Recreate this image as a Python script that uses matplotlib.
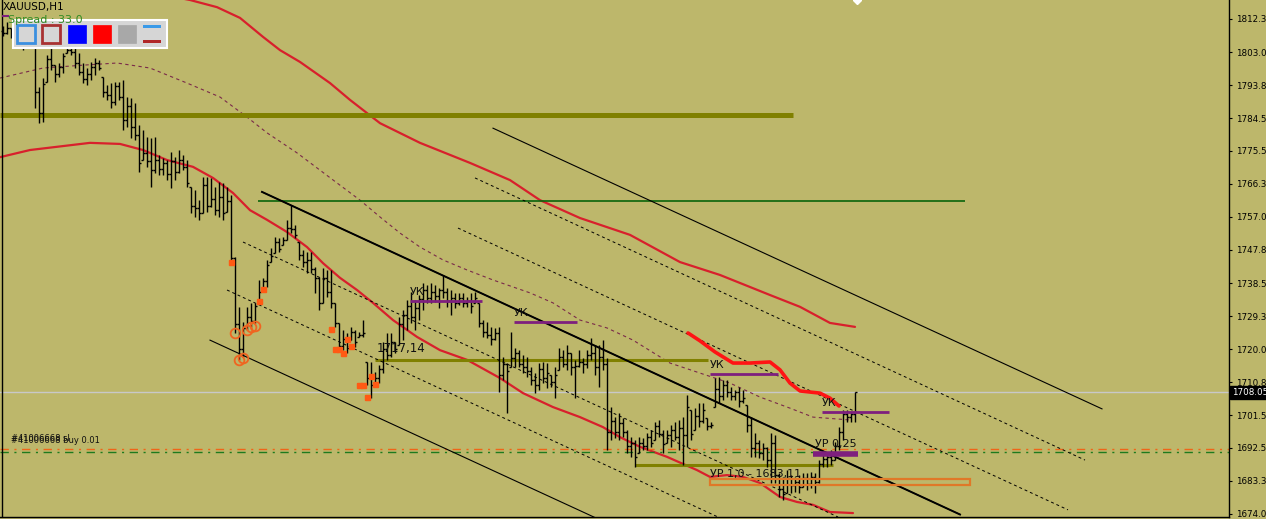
import numpy as np
import matplotlib
matplotlib.use("Agg")
import matplotlib.pyplot as plt
import matplotlib.transforms as mtransforms
from matplotlib.patches import Rectangle
from matplotlib.lines import Line2D

plt.rcParams['font.family'] = ['DejaVu Sans']

# ---------------- XAUUSD H1 bars ----------------
highs = [
    1810.3, 1811.5, 1809.8, 1809.8, 1808.7, 1807.0, 1809.2, 1809.8, 1805.9, 1793.3,
    1795.8, 1802.2, 1804.2, 1799.4, 1800.0, 1802.8, 1805.6, 1806.4, 1804.2, 1802.8,
    1800.0, 1798.6, 1800.3, 1801.4, 1800.8, 1796.1, 1793.9, 1794.4, 1794.7, 1794.7,
    1795.3, 1790.5, 1790.2, 1788.8, 1782.7, 1781.3, 1779.3, 1779.1, 1779.3, 1774.3,
    1773.5, 1772.9, 1775.1, 1773.8, 1775.7, 1774.3, 1772.9, 1765.5, 1764.5, 1761.7,
    1768.2, 1768.2, 1767.9, 1765.4, 1766.8, 1766.5, 1765.4, 1763.1, 1745.8, 1731.9,
    1727.7, 1731.9, 1733.0, 1733.0, 1739.4, 1740.0, 1745.0, 1748.3, 1751.4, 1751.1,
    1751.4, 1756.2, 1760.3, 1754.8, 1750.0, 1747.8, 1747.2, 1747.2, 1743.0, 1740.2,
    1742.7, 1742.2, 1742.2, 1733.0, 1727.4, 1725.4, 1724.6, 1726.3, 1725.4, 1724.9,
    1728.2, 1716.5, 1716.5, 1713.7, 1715.7, 1722.1, 1724.6, 1724.6, 1722.1, 1729.1,
    1731.0, 1733.8, 1736.0, 1733.8, 1735.2, 1738.6, 1738.0, 1738.6, 1738.0, 1737.2,
    1740.8, 1737.2, 1736.6, 1735.8, 1735.8, 1735.8, 1734.6, 1735.8, 1736.0, 1733.0,
    1728.2, 1727.7, 1726.3, 1726.0, 1726.3, 1717.9, 1716.2, 1724.9, 1720.4, 1719.8,
    1718.4, 1717.9, 1715.1, 1713.4, 1716.2, 1716.5, 1716.2, 1712.9, 1715.1, 1720.4,
    1719.8, 1721.2, 1719.0, 1717.0, 1719.8, 1717.6, 1719.8, 1723.2, 1721.2, 1721.2,
    1722.6, 1717.6, 1703.9, 1701.1, 1702.2, 1700.9, 1697.5, 1695.5, 1694.7, 1695.5,
    1695.3, 1696.7, 1697.5, 1699.7, 1700.3, 1697.5, 1697.5, 1698.9, 1699.7, 1700.3,
    1701.1, 1707.3, 1703.1, 1703.6, 1705.0, 1705.0, 1700.9, 1699.7, 1712.0, 1712.3,
    1711.5, 1711.5, 1709.5, 1708.7, 1709.5, 1708.7, 1704.5, 1701.1, 1696.7, 1694.7,
    1693.9, 1692.8, 1696.7, 1696.1, 1685.5, 1684.4, 1686.3, 1684.9, 1684.4, 1684.9,
    1685.5, 1685.5, 1685.8, 1685.5, 1689.1, 1691.4, 1691.4, 1691.9, 1694.1, 1698.3,
    1703.1, 1703.1, 1702.5, 1708.1,
]
lows = [
    1807.5, 1808.1, 1807.0, 1806.4, 1805.0, 1803.6, 1805.9, 1806.4, 1787.4, 1783.2,
    1783.5, 1794.7, 1798.0, 1794.7, 1796.1, 1797.2, 1802.8, 1802.2, 1798.6, 1796.6,
    1794.4, 1793.9, 1795.3, 1796.6, 1798.0, 1790.5, 1789.7, 1787.4, 1788.3, 1789.7,
    1781.3, 1782.1, 1779.1, 1778.5, 1769.6, 1772.9, 1771.0, 1765.4, 1769.3, 1768.7,
    1768.7, 1767.3, 1765.1, 1767.3, 1769.3, 1770.1, 1765.4, 1758.1, 1757.0, 1756.2,
    1758.1, 1758.4, 1759.8, 1757.5, 1757.0, 1756.2, 1758.4, 1744.4, 1724.6, 1717.0,
    1717.9, 1725.4, 1726.3, 1727.4, 1733.8, 1736.6, 1737.4, 1744.4, 1746.9, 1747.2,
    1749.2, 1750.6, 1752.5, 1751.1, 1745.0, 1743.0, 1741.4, 1741.4, 1735.8, 1731.0,
    1733.0, 1734.6, 1731.6, 1726.3, 1719.8, 1719.8, 1719.0, 1722.6, 1720.7, 1723.5,
    1723.5, 1710.1, 1706.4, 1710.6, 1710.6, 1713.4, 1717.0, 1717.9, 1719.0, 1721.2,
    1722.6, 1725.4, 1727.4, 1725.4, 1728.2, 1731.0, 1733.0, 1733.0, 1733.3, 1731.6,
    1734.4, 1731.9, 1729.6, 1731.6, 1732.4, 1731.9, 1731.9, 1730.2, 1733.0, 1726.3,
    1723.5, 1723.2, 1721.2, 1722.6, 1708.1, 1711.5, 1702.2, 1715.1, 1715.1, 1715.1,
    1713.4, 1712.3, 1710.1, 1707.8, 1708.7, 1710.6, 1709.2, 1709.5, 1706.4, 1714.3,
    1715.1, 1714.3, 1712.9, 1706.4, 1715.1, 1713.4, 1714.8, 1717.0, 1712.9, 1709.5,
    1714.3, 1691.9, 1694.7, 1695.3, 1694.7, 1695.5, 1691.1, 1690.0, 1687.2, 1691.1,
    1691.9, 1691.9, 1692.8, 1694.7, 1695.5, 1691.1, 1693.9, 1692.8, 1694.7, 1691.9,
    1687.7, 1692.8, 1694.7, 1697.5, 1698.3, 1699.5, 1697.5, 1698.1, 1703.9, 1705.0,
    1705.9, 1706.7, 1705.9, 1705.9, 1703.9, 1705.0, 1696.9, 1690.0, 1690.0, 1689.7,
    1689.1, 1687.2, 1682.7, 1682.7, 1678.8, 1677.9, 1679.9, 1679.9, 1680.2, 1679.9,
    1681.6, 1680.7, 1681.3, 1679.9, 1682.7, 1687.2, 1687.2, 1687.7, 1689.1, 1691.9,
    1694.7, 1699.7, 1699.7, 1699.7,
]
closes = [
    1808.5, 1809.8, 1807.8, 1808.5, 1806.0, 1805.0, 1807.5, 1806.9, 1792.0, 1786.0,
    1794.0, 1801.0, 1799.5, 1797.0, 1799.0, 1802.0, 1803.5, 1803.0, 1800.0, 1797.5,
    1795.5, 1797.0, 1799.0, 1800.0, 1798.5, 1792.0, 1791.0, 1789.0, 1793.5, 1790.5,
    1784.0, 1788.0, 1782.0, 1780.0, 1772.0, 1775.0, 1772.5, 1770.0, 1773.0, 1770.5,
    1772.0, 1769.0, 1772.5, 1769.5, 1773.0, 1771.0, 1766.5, 1760.0, 1759.5, 1758.0,
    1766.0, 1760.0, 1762.0, 1759.0, 1762.5, 1758.0, 1761.5, 1745.5, 1727.0, 1720.0,
    1726.0, 1729.0, 1728.0, 1732.0, 1736.0, 1739.0, 1743.5, 1746.0, 1750.0, 1748.0,
    1750.5, 1754.0, 1753.5, 1752.0, 1746.5, 1744.5, 1745.0, 1742.5, 1740.0, 1733.0,
    1740.0, 1736.0, 1733.0, 1727.5, 1721.0, 1723.0, 1720.5, 1725.0, 1722.0, 1724.0,
    1724.5, 1712.0, 1710.0, 1712.0, 1714.5, 1720.0, 1718.5, 1722.0, 1720.0, 1727.0,
    1729.5, 1732.0, 1729.0, 1731.5, 1734.0, 1736.5, 1734.5, 1736.0, 1735.0, 1736.5,
    1736.0, 1733.5, 1734.5, 1733.0, 1734.5, 1733.0, 1733.5, 1732.0, 1734.5, 1727.5,
    1725.0, 1724.0, 1723.0, 1724.5, 1713.0, 1716.0, 1714.0, 1717.5, 1719.0, 1716.0,
    1715.0, 1714.0, 1711.5, 1710.0, 1714.5, 1712.0, 1713.5, 1711.0, 1713.0, 1718.0,
    1716.0, 1719.0, 1715.0, 1715.5, 1716.5, 1716.0, 1718.5, 1719.0, 1715.0, 1718.0,
    1716.0, 1697.0, 1700.0, 1697.0, 1699.5, 1697.0, 1693.0, 1694.0, 1690.0, 1694.0,
    1693.0, 1695.5, 1694.0, 1698.5, 1696.5, 1693.5, 1696.0, 1697.5, 1695.5, 1698.0,
    1696.0, 1704.0, 1696.5, 1701.5, 1700.0, 1703.0, 1698.5, 1699.0, 1709.0, 1707.0,
    1710.0, 1708.0, 1707.0, 1708.0, 1705.5, 1706.5, 1699.0, 1692.5, 1694.0, 1691.0,
    1692.5, 1689.0, 1694.0, 1685.0, 1681.0, 1679.5, 1684.0, 1682.0, 1683.0, 1681.5,
    1684.0, 1682.5, 1684.5, 1683.0, 1688.0, 1689.5, 1690.0, 1689.0, 1693.0, 1697.0,
    1702.0, 1701.0, 1702.0, 1708.05,
]
first_open = 1809.0
last_price = 1708.05

# ---------------- price scale ----------------
price_ticks = [1812.30, 1803.05, 1793.80, 1784.55, 1775.55, 1766.30, 1757.05, 1747.80,
               1738.55, 1729.30, 1720.05, 1710.80, 1701.55, 1692.55, 1683.30, 1674.05]
tick_labels = ["1812.30", "1803.05", "1793.80", "1784.55", "1775.55", "1766.30", "1757.05",
               "1747.80", "1738.55", "1729.30", "1720.05", "1710.80", "1701.55", "1692.55",
               "1683.30", "1674.05"]

# ---------------- indicator lines (bar index, price) ----------------
env_upper_bars = [43, 46.75, 53.5, 59.25, 65, 69.25, 74.25, 81.75, 86.75, 94.25, 104.25,
                  116.75, 126.75, 134.25, 144.25, 156.75, 169.25, 179.25, 191.75, 199.25,
                  206.75, 213]
env_upper_vals = [1818.4, 1817.6, 1815.6, 1812.6, 1807.3, 1803.6, 1800.3, 1794.4, 1789.7,
                  1783.2, 1777.7, 1772.1, 1767.3, 1761.7, 1756.7, 1752.0, 1744.4, 1740.8,
                  1735.2, 1731.9, 1727.4, 1726.3]

env_lower_bars = [-0.75, 6.75, 21.75, 29.25, 35, 41, 47.5, 52.5, 57.5, 61.75, 66, 71, 76,
                  80, 84.25, 88.5, 92.5, 97.5, 103.5, 109.25, 116, 124.25, 130, 137.5,
                  144.25, 150, 154.25, 159.25, 166, 173.5, 176.75, 181, 185, 189.25,
                  194.25, 198.5, 202.5, 206.75, 212.5]
env_lower_vals = [1773.7, 1775.7, 1777.7, 1777.4, 1775.7, 1772.9, 1771.0, 1767.9, 1763.7,
                  1758.9, 1756.2, 1752.8, 1748.6, 1744.1, 1740.0, 1736.6, 1733.0, 1728.2,
                  1723.5, 1719.8, 1717.1, 1712.0, 1707.8, 1703.9, 1701.1, 1698.3, 1695.5,
                  1692.8, 1690.0, 1686.3, 1684.4, 1684.9, 1684.4, 1682.7, 1678.8, 1677.4,
                  1676.6, 1674.6, 1674.3]

env_mid_bars = [-0.75, 10, 20, 28.5, 36.75, 46, 54.25, 61, 66, 73.5, 83.5, 89.25, 94.25,
                99.25, 104.25, 110, 116, 122.5, 131.75, 137.5, 144.25, 151, 157.5, 166.75,
                174.25, 181.75, 189.25, 196.75, 202.5, 211.75]
env_mid_vals = [1795.8, 1798.6, 1799.4, 1800.0, 1798.6, 1794.4, 1790.5, 1784.9, 1780.5,
                1774.9, 1766.5, 1761.7, 1757.0, 1752.5, 1748.6, 1745.0, 1742.2, 1739.4,
                1735.8, 1733.0, 1728.2, 1726.0, 1722.6, 1716.2, 1713.4, 1710.6, 1706.7,
                1703.6, 1701.1, 1700.3]

signal_bars = [171.25, 174.25, 178, 182.5, 186.75, 191.75, 194.25, 196.75, 199.25,
               204.25, 206.75, 209]
signal_vals = [1724.6, 1722.4, 1719.3, 1716.2, 1716.2, 1716.5, 1714.3, 1710.6, 1708.4,
               1707.8, 1706.4, 1704.2]

# channel lines: (bar1, price1, bar2, price2)
channel_solid = [(64.75, 1764.0, 239.25, 1673.9),
                 (51.75, 1722.6, 149.25, 1672.4),
                 (122.5, 1781.8, 274.75, 1703.4)]
channel_dashed = [(118, 1767.9, 270.5, 1689.1),
                  (113.75, 1753.9, 266.25, 1675.2),
                  (60, 1750.0, 208.75, 1673.2),
                  (56, 1736.6, 178.75, 1673.2)]

# horizontal levels: (price, bar from, bar to, width)
olive_levels = [(1785.5, -0.75, 197.5, 3.6), (1717.14, 93, 176.25, 2.2), (1687.7, 158, 207.5, 2.2)]
green_level = (1761.5, 63.75, 240.5)
uk_levels = [(1733.5, 101.75, 119.75), (1727.7, 127.75, 143.5),
             (1713.1, 176.75, 193.75), (1702.5, 204.75, 221.5)]
ur025_level = (1690.8, 202.5, 213.75)
ur10_zone = (176.75, 241.75, 1682.1, 1683.8)

# trade levels
sl_price = 1692.2
buy_price = 1691.4

# arrow marks
square_bars = [57, 64, 65, 82, 83, 84, 85, 86, 87, 89, 90, 91, 92, 93]
square_vals = [1744.4, 1733.5, 1736.9, 1725.7, 1720.1, 1720.1, 1719.0, 1722.9, 1721.0,
               1710.1, 1710.1, 1706.7, 1712.6, 1710.4]
circle_bars = [58, 59, 60, 61, 62, 63]
circle_vals = [1724.6, 1717.0, 1717.6, 1725.4, 1726.3, 1726.6]

# ---------------- figure ----------------
W, H = 1266, 519
BG = '#BDB76B'
fig = plt.figure(figsize=(W / 100, H / 100), dpi=100, facecolor=BG)
ax = fig.add_axes([0, 2 / H, 1229 / W, 517 / H], facecolor=BG)
ax.set_xlim(-0.75, 306.5)
ax.set_ylim(1673.2, 1817.6)

def fx(x):
    return x / W

def fy(y):
    return 1 - y / H

# moving average envelope
ax.plot(env_upper_bars, env_upper_vals, color='#D8202C', lw=1.6, zorder=2, solid_capstyle='round')
ax.plot(env_lower_bars, env_lower_vals, color='#D8202C', lw=1.6, zorder=2, solid_capstyle='round')
ax.plot(env_mid_bars, env_mid_vals, color='#7A2A4A', lw=0.8, ls=(0, (3, 3)), zorder=2)

# horizontal levels
for p, b0, b1, w in olive_levels:
    ax.plot([b0, b1], [p, p], color='#808000', lw=w, solid_capstyle='butt', zorder=2)
gp, gb0, gb1 = green_level
ax.plot([gb0, gb1], [gp, gp], color='#0A640A', lw=1.2, solid_capstyle='butt', zorder=2)

# bid line
ax.axhline(last_price, color='#C8C8C8', lw=1.0, zorder=1.5)

# order lines
ax.axhline(sl_price, color='#F06418', lw=1.0, ls=(0, (6, 4, 1.5, 4)), zorder=2)
ax.axhline(buy_price, color='#1E7A1E', lw=1.0, ls=(0, (6, 4, 1.5, 4)), zorder=2)

# channel
for b0, p0, b1, p1 in channel_solid:
    ax.plot([b0, b1], [p0, p1], color='black', lw=0.8, zorder=3)
ax.plot(channel_solid[0][::2], channel_solid[0][1::2], color='black', lw=1.4, zorder=3)
for b0, p0, b1, p1 in channel_dashed:
    ax.plot([b0, b1], [p0, p1], color='black', lw=0.7, ls=(0, (3, 3)), zorder=3)

# bars
n = len(highs)
idx = np.arange(n)
opens = np.clip(np.r_[first_open, closes[:-1]], lows, highs)
ax.vlines(idx, lows, highs, color='black', lw=1.0, zorder=4)
ax.hlines(opens, idx - 0.5, idx, color='black', lw=1.0, zorder=4)
ax.hlines(closes, idx, idx + 0.5, color='black', lw=1.0, zorder=4)

# orange marks
ax.plot(square_bars, square_vals, ls='none', marker='s', ms=3.6, color='#FF5A14',
        mec='#FF5A14', zorder=5)
ax.plot(circle_bars, circle_vals, ls='none', marker='o', ms=7, mfc='none', mec='#F06420',
        mew=1.3, zorder=5)

# purple levels
for p, b0, b1 in uk_levels:
    ax.plot([b0, b1], [p, p], color='#7E1F7E', lw=2.0, solid_capstyle='butt', zorder=5)
    ax.text(b0, p + 1.2, 'УК', fontsize=8, color='#101010', ha='left', va='bottom', zorder=6)
rp, rb0, rb1 = ur025_level
ax.plot([rb0, rb1], [rp, rp], color='#7E1F7E', lw=4.0, solid_capstyle='butt', zorder=5)
ax.text(rb0 + 0.5, rp + 1.4, 'УР 0,25', fontsize=8, color='#101010', ha='left', va='bottom', zorder=6)

zb0, zb1, zp0, zp1 = ur10_zone
ax.add_patch(Rectangle((zb0, zp0), zb1 - zb0, zp1 - zp0, fill=False, ec='#E07828', lw=1.6, zorder=5))
ax.text(zb0, zp1 + 0.1, 'УР 1,0 - 1683,11', fontsize=8, color='#101010', ha='left', va='bottom', zorder=6)

ax.text(olive_levels[1][1] + 0.5, olive_levels[1][0] + 1.3, '1717,14', fontsize=8.5,
        color='#101010', ha='left', va='bottom', zorder=6)

# signal line
ax.plot(signal_bars, signal_vals, color='#FF1414', lw=2.6, zorder=5, solid_capstyle='round')

# top marker
ax.plot([213.5], [1817.6], marker='D', ms=4, color='white', mec='white', zorder=6, clip_on=True)

# session line at the left edge
ax.axvline(-0.25, color='black', lw=1.0, zorder=4)

# axes styling
for s in ['top', 'left']:
    ax.spines[s].set_visible(False)
ax.spines['right'].set_linewidth(1.0)
ax.spines['bottom'].set_linewidth(1.0)
ax.set_xticks([])
ax.yaxis.tick_right()
ax.set_yticks(price_ticks)
ax.set_yticklabels(tick_labels, fontsize=6.3)
ax.tick_params(axis='y', direction='out', length=2.2, width=0.8, pad=3, colors='black')

# price tag
trans = mtransforms.blended_transform_factory(ax.transAxes, ax.transData)
ax.text(1.0 + 3 / 1229, last_price, '1708.05', transform=trans, fontsize=6.3, color='white',
        ha='left', va='center', zorder=7, clip_on=False,
        bbox=dict(boxstyle='square,pad=0.25', fc='black', ec='black'))

# trade labels
ax.text(2, sl_price + 1.2, '#41006668 buy 0.01', fontsize=6, color='#101010', ha='left',
        va='bottom', zorder=6)
ax.text(2, sl_price + 1.6, '#41006668 sl', fontsize=6, color='#101010', ha='left',
        va='bottom', zorder=6)

# header texts
fig.text(fx(3), fy(10), 'XAUUSD,H1', fontsize=7.5, color='black', ha='left', va='baseline')
fig.text(fx(8), fy(23), 'Spread : 33.0', fontsize=8, color='#2E8B22', ha='left', va='baseline')
fig.add_artist(Line2D([fx(3), fx(8)], [fy(16), fy(16)], color='#7E1F7E', lw=1.5))

# tool panel
fig.add_artist(Rectangle((fx(13), fy(48)), fx(154), 28 / H, fc='#D6D6D6', ec='white', lw=1.5,
                         transform=fig.transFigure))
boxes = [(17, '#D6D6D6', '#3A8FE0', 2.0), (42, '#D6D6D6', '#A83232', 2.0),
         (68, '#0000FF', '#0000FF', 0.5), (93, '#FF0000', '#FF0000', 0.5),
         (118, '#A8A8A8', '#A8A8A8', 0.5)]
for bx, fc, ec, lw in boxes:
    fig.add_artist(Rectangle((fx(bx), fy(43)), fx(18), 18 / H, fc=fc, ec=ec, lw=lw,
                             transform=fig.transFigure))
fig.add_artist(Rectangle((fx(143), fy(28)), fx(18), 3 / H, fc='#3A9AE8', ec='none',
                         transform=fig.transFigure))
fig.add_artist(Rectangle((fx(143), fy(43)), fx(18), 3 / H, fc='#B02828', ec='none',
                         transform=fig.transFigure))

fig.savefig('out.png', dpi=100, facecolor=BG)
